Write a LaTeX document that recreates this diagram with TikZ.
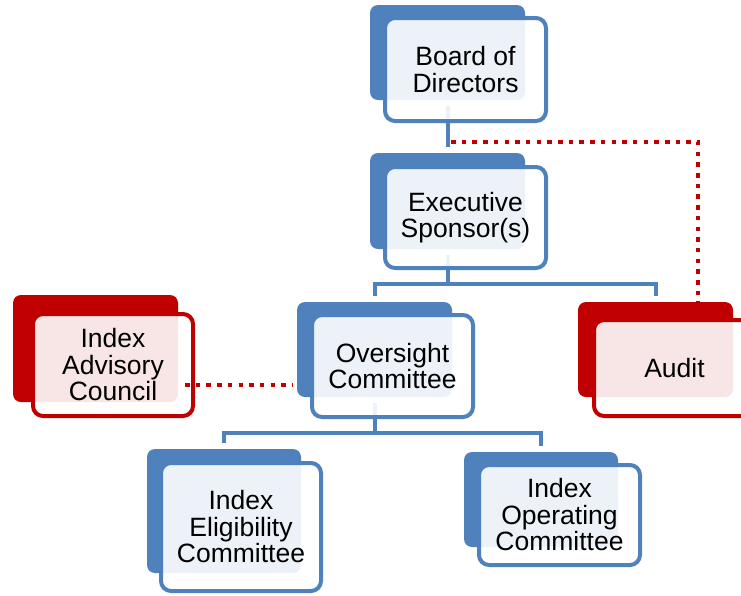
\documentclass[tikz,border=0pt]{standalone}
\usepackage{fontspec}
\setmainfont{Liberation Sans}
\usetikzlibrary{calc}
\definecolor{orgblue}{HTML}{4F81BD}
\definecolor{orgred}{HTML}{C00000}
\begin{document}
\begin{tikzpicture}[x=1pt,y=-1pt,
  back/.style={fill=#1,rounded corners=8pt,inner sep=0pt,outer sep=0pt},
  front/.style={draw=#1,line width=4pt,rounded corners=10pt,fill=white,fill opacity=0.9,text opacity=1,
    align=center,inner sep=0pt,font=\fontsize{26.5}{26.5}\selectfont},
  link/.style={orgblue,line width=4pt,shorten <=6pt,shorten >=6pt},
  dots/.style={orgred,line width=4.5pt,dash pattern=on 4.5pt off 6.2pt}]
\useasboundingbox (0,0) rectangle (741,595);
\node[back=orgblue,minimum width=155pt,minimum height=95pt] (board-b) at (447.5,52.5) {};
\node[back=orgblue,minimum width=155pt,minimum height=96pt] (exec-b) at (447.5,201) {};
\node[back=orgblue,minimum width=155pt,minimum height=95pt] (over-b) at (374.5,349.5) {};
\node[back=orgred,minimum width=165pt,minimum height=107pt] (adv-b) at (95.5,348.5) {};
\node[back=orgred,minimum width=155pt,minimum height=95pt] (audit-b) at (655.5,349.5) {};
\node[back=orgblue,minimum width=154pt,minimum height=124pt] (elig-b) at (224,511) {};
\node[back=orgblue,minimum width=154pt,minimum height=95pt] (oper-b) at (541,499.5) {};
\draw[link] (board-b) -- (exec-b);
\draw[link] (exec-b.south) -- ++(0,35) -| (over-b.north);
\draw[link] (exec-b.south) -- ++(0,35) -| (audit-b.north);
\draw[link] (over-b.south) -- ++(0,36) -| (elig-b.north);
\draw[link] (over-b.south) -- ++(0,36) -| (oper-b.north);
\coordinate (tap) at ($(board-b.south)!0.79!(exec-b.north)$);
\draw[dots,shorten >=-18pt] ([xshift=3.5pt]tap) -| ([xshift=42.5pt]audit-b.north);
\node[front=orgblue,minimum width=161pt,minimum height=103pt] (board) at (465.5,69.5) {Board of\\Directors};
\node[front=orgblue,minimum width=161pt,minimum height=101pt] (exec) at (465.5,217.5) {Executive\\Sponsor(s)};
\node[front=orgblue,minimum width=161pt,minimum height=102pt] (over) at (392.5,366) {Oversight\\Committee};
\node[front=orgred,minimum width=160pt,minimum height=102pt] (adv) at (113,365) {Index\\Advisory\\Council};
\node[front=orgred,minimum width=161pt,minimum height=96pt] (audit) at (674.5,368) {Audit};
\node[front=orgblue,minimum width=160pt,minimum height=128pt] (elig) at (241,527) {Index\\Eligibility\\Committee};
\node[front=orgblue,minimum width=161pt,minimum height=100pt] (oper) at (559.5,515) {Index\\Operating\\Committee};
\coordinate (advlink) at ([shift={(-10,20)}]adv.east);
\draw[dots,shorten >=4pt] (advlink) -- (advlink -| over-b.west);
\end{tikzpicture}
\end{document}
